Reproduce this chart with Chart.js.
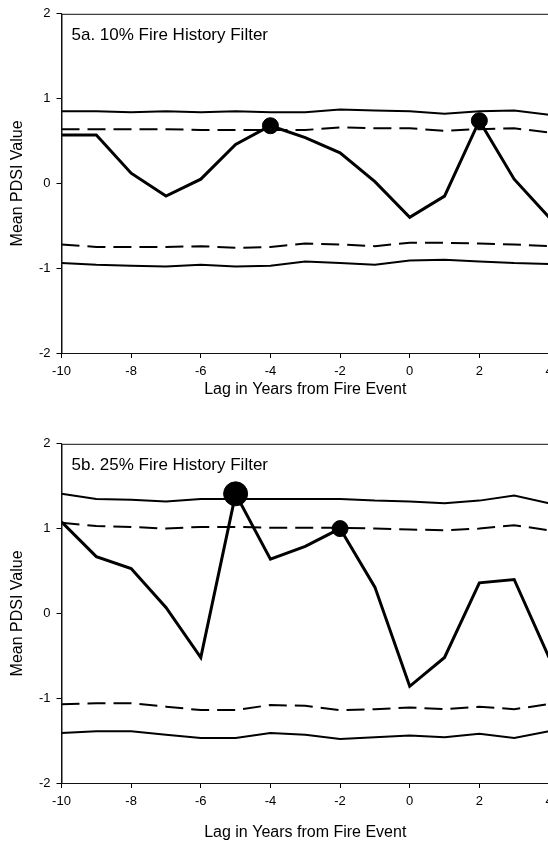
<html>

<head>
    <script src="https://cdn.jsdelivr.net/npm/chart.js@4.4.0/dist/chart.umd.min.js"></script>

    <style>
        body {
            margin: 0;
            background-color: #ffffff;
            width: 548px;
            height: 842px;
            overflow: hidden;
            position: relative;
        }

        canvas {
            position: absolute;
            left: 0;
        }

        #chartA {
            top: 0px;
        }

        #chartB {
            top: 430px;
        }
    </style>

</head>

<body>
    <canvas id="chartA" width="580" height="420"></canvas>
    <canvas id="chartB" width="580" height="412"></canvas>
</body>
<script>

    // lag years (x axis)
    var lags = [-10, -9, -8, -7, -6, -5, -4, -3, -2, -1, 0, 1, 2, 3, 4];

    // 5a. 10% filter
    var meanA = [0.57, 0.57, 0.12, -0.15, 0.05, 0.46, 0.68, 0.54, 0.36, 0.02, -0.40, -0.15, 0.74, 0.05, -0.40];
    var upper99A = [0.85, 0.85, 0.84, 0.85, 0.84, 0.85, 0.84, 0.84, 0.87, 0.86, 0.85, 0.82, 0.85, 0.86, 0.81];
    var upper95A = [0.64, 0.64, 0.64, 0.64, 0.63, 0.63, 0.63, 0.63, 0.66, 0.65, 0.65, 0.62, 0.64, 0.65, 0.60];
    var lower95A = [-0.72, -0.75, -0.75, -0.75, -0.74, -0.76, -0.75, -0.71, -0.72, -0.74, -0.70, -0.70, -0.71, -0.72, -0.74];
    var lower99A = [-0.94, -0.96, -0.97, -0.98, -0.96, -0.98, -0.97, -0.92, -0.94, -0.96, -0.91, -0.90, -0.92, -0.94, -0.95];
    var sig95A = [-4, 2];
    var sig99A = [];

    // 5b. 25% filter
    var meanB = [1.08, 0.67, 0.53, 0.07, -0.52, 1.41, 0.64, 0.79, 1.00, 0.31, -0.86, -0.52, 0.36, 0.40, -0.52];
    var upper99B = [1.41, 1.35, 1.34, 1.32, 1.35, 1.35, 1.35, 1.35, 1.35, 1.33, 1.32, 1.30, 1.33, 1.39, 1.30];
    var upper95B = [1.07, 1.03, 1.02, 1.00, 1.02, 1.02, 1.01, 1.01, 1.01, 1.00, 0.99, 0.98, 1.00, 1.04, 0.98];
    var lower95B = [-1.07, -1.06, -1.06, -1.10, -1.14, -1.14, -1.08, -1.09, -1.14, -1.13, -1.11, -1.13, -1.10, -1.13, -1.07];
    var lower99B = [-1.41, -1.39, -1.39, -1.43, -1.47, -1.47, -1.41, -1.43, -1.48, -1.46, -1.44, -1.46, -1.42, -1.47, -1.39];
    var sig95B = [-2];
    var sig99B = [-5];

    var yTicks = [-2, -1, 0, 1, 2];
    var xTicks = [-10, -8, -6, -4, -2, 0, 2, 4];

    Chart.defaults.font.family = "'Liberation Sans', Arial, sans-serif";
    Chart.defaults.color = '#000';

    function toPoints(values) {
        return lags.map(function (lag, i) { return { x: lag, y: values[i] }; });
    }

    // frame round the plot area + panel label in the top left corner
    var panelDecor = {
        id: 'panelDecor',
        afterDraw: function (chart) {
            var area = chart.chartArea;
            var ctx = chart.ctx;
            ctx.save();
            ctx.strokeStyle = '#111';
            ctx.lineWidth = 1;
            ctx.strokeRect(area.left + 0.5, area.top + 0.5, area.right - area.left, area.bottom - area.top);
            ctx.fillStyle = '#000';
            ctx.font = "17px 'Liberation Sans', Arial, sans-serif";
            ctx.textBaseline = 'alphabetic';
            ctx.fillText(chart.options.plugins.panelDecor.label, area.left + 10, area.top + 26);
            ctx.restore();
        }
    };

    function drawPanel(canvasId, label, mean, up99, up95, lo95, lo99, sig95, sig99, xAxisHeight, padBottom) {

        var boundStyle = {
            borderColor: '#000',
            borderWidth: 2,
            pointRadius: 0,
            tension: 0,
            fill: false
        };

        var paintingCanvas = document.getElementById(canvasId).getContext('2d');
        var chart = new Chart(paintingCanvas, {
            type: 'line',
            data: {
                datasets: [
                    {
                        label: 'Mean PDSI',
                        data: toPoints(mean),
                        borderColor: '#000',
                        borderWidth: 3,
                        backgroundColor: '#000',
                        pointBorderColor: '#000',
                        pointBorderWidth: 1,
                        pointRadius: function (c) {
                            var lag = lags[c.dataIndex];
                            if (sig99.indexOf(lag) >= 0) return 12;
                            if (sig95.indexOf(lag) >= 0) return 8;
                            return 0;
                        },
                        tension: 0
                    },
                    Object.assign({ label: '99% upper', data: toPoints(up99) }, boundStyle),
                    Object.assign({ label: '95% upper', data: toPoints(up95), borderDash: [18, 8] }, boundStyle),
                    Object.assign({ label: '95% lower', data: toPoints(lo95), borderDash: [18, 8] }, boundStyle),
                    Object.assign({ label: '99% lower', data: toPoints(lo99) }, boundStyle)
                ]
            },
            options: {
                responsive: false,
                animation: false,
                layout: {
                    padding: { top: 11, right: 31, bottom: padBottom, left: 0 }
                },
                plugins: {
                    legend: { display: false },
                    tooltip: { enabled: false },
                    panelDecor: { label: label }
                },
                scales: {
                    x: {
                        type: 'linear',
                        min: -10,
                        max: 4,
                        afterBuildTicks: function (scale) {
                            scale.ticks = xTicks.map(function (v) { return { value: v }; });
                        },
                        afterFit: function (scale) {
                            scale.height = xAxisHeight;
                        },
                        ticks: {
                            font: { size: 13 },
                            padding: 6,
                            maxRotation: 0
                        },
                        grid: {
                            display: true,
                            drawOnChartArea: false,
                            tickLength: 5,
                            color: '#000'
                        },
                        border: { display: true, color: '#111', width: 1 },
                        title: {
                            display: true,
                            text: 'Lag in Years from Fire Event',
                            font: { size: 16 },
                            padding: { top: 0, bottom: 0 }
                        }
                    },
                    y: {
                        min: -2,
                        max: 2,
                        afterBuildTicks: function (scale) {
                            scale.ticks = yTicks.map(function (v) { return { value: v }; });
                        },
                        afterFit: function (scale) {
                            scale.width = 61.5;
                        },
                        ticks: {
                            font: { size: 13 },
                            padding: 6
                        },
                        grid: {
                            display: true,
                            drawOnChartArea: false,
                            tickLength: 5,
                            color: '#000'
                        },
                        border: { display: true, color: '#111', width: 1 },
                        title: {
                            display: true,
                            text: 'Mean PDSI Value',
                            font: { size: 16 },
                            padding: { top: 8, bottom: 0 }
                        }
                    }
                }
            },
            plugins: [panelDecor]
        });
        return chart;
    }

    drawPanel('chartA', '5a. 10% Fire History Filter', meanA, upper99A, upper95A, lower95A, lower99A, sig95A, sig99A, 46, 21);
    drawPanel('chartB', '5b. 25% Fire History Filter', meanB, upper99B, upper95B, lower95B, lower99B, sig95B, sig99B, 59, 0);

</script>

</html>
